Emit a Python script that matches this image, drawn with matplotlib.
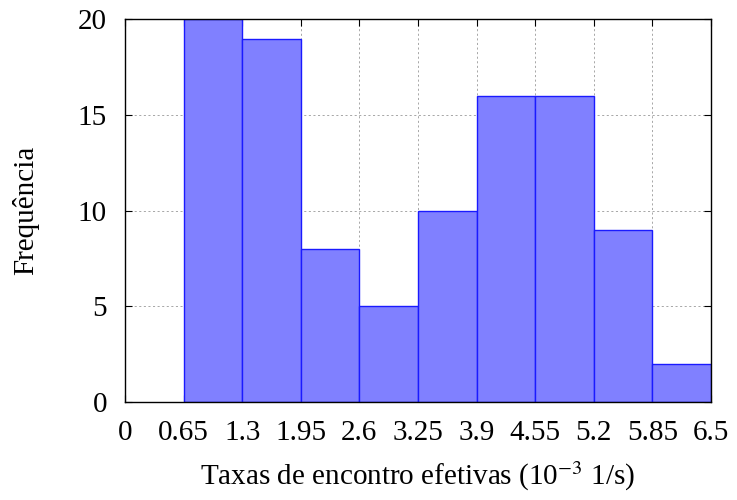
import numpy as np
import matplotlib.pyplot as plt

plt.rcParams['font.family'] = ['Liberation Serif', 'DejaVu Serif']
plt.rcParams['mathtext.fontset'] = 'stix'

bin_edges = [0.65, 1.3, 1.95, 2.6, 3.25, 3.9, 4.55, 5.2, 5.85, 6.5]
counts = [20, 19, 8, 5, 10, 16, 16, 9, 2]
xticks = [0, 0.65, 1.3, 1.95, 2.6, 3.25, 3.9, 4.55, 5.2, 5.85, 6.5]
xticklabels = ['0', '0.65', '1.3', '1.95', '2.6', '3.25', '3.9', '4.55', '5.2', '5.85', '6.5']
yticks = [0, 5, 10, 15, 20]

fig = plt.figure(figsize=(7.37, 5), dpi=100)
ax = fig.add_axes([0.1696, 0.196, 0.795, 0.765])

lefts = np.array(bin_edges[:-1])
widths = np.diff(bin_edges)
ax.bar(lefts, counts, width=widths, align='edge', color='#8080ff',
       edgecolor='#1a1aff', linewidth=1.0, zorder=2)

ax.set_xlim(0, 6.5)
ax.set_ylim(0, 20)
ax.set_xticks(xticks)
ax.set_xticklabels(xticklabels)
ax.set_yticks(yticks)
ax.grid(True, linestyle=(0, (2.5, 3)), color='#999999', linewidth=0.6, zorder=0)
ax.set_axisbelow(True)
ax.tick_params(direction='in', top=True, right=True, labelsize=21, length=5)
ax.tick_params(axis='y', pad=13)
ax.tick_params(axis='x', pad=13)
for s in ax.spines.values():
    s.set_linewidth(1.0)
    s.set_zorder(3)

ax.set_xlabel(r'Taxas de encontro efetivas (10$^{-3}$ 1/s)', fontsize=21, labelpad=10)
ax.set_ylabel('Frequência', fontsize=21, labelpad=28)

fig.savefig('out.png', dpi=100)
